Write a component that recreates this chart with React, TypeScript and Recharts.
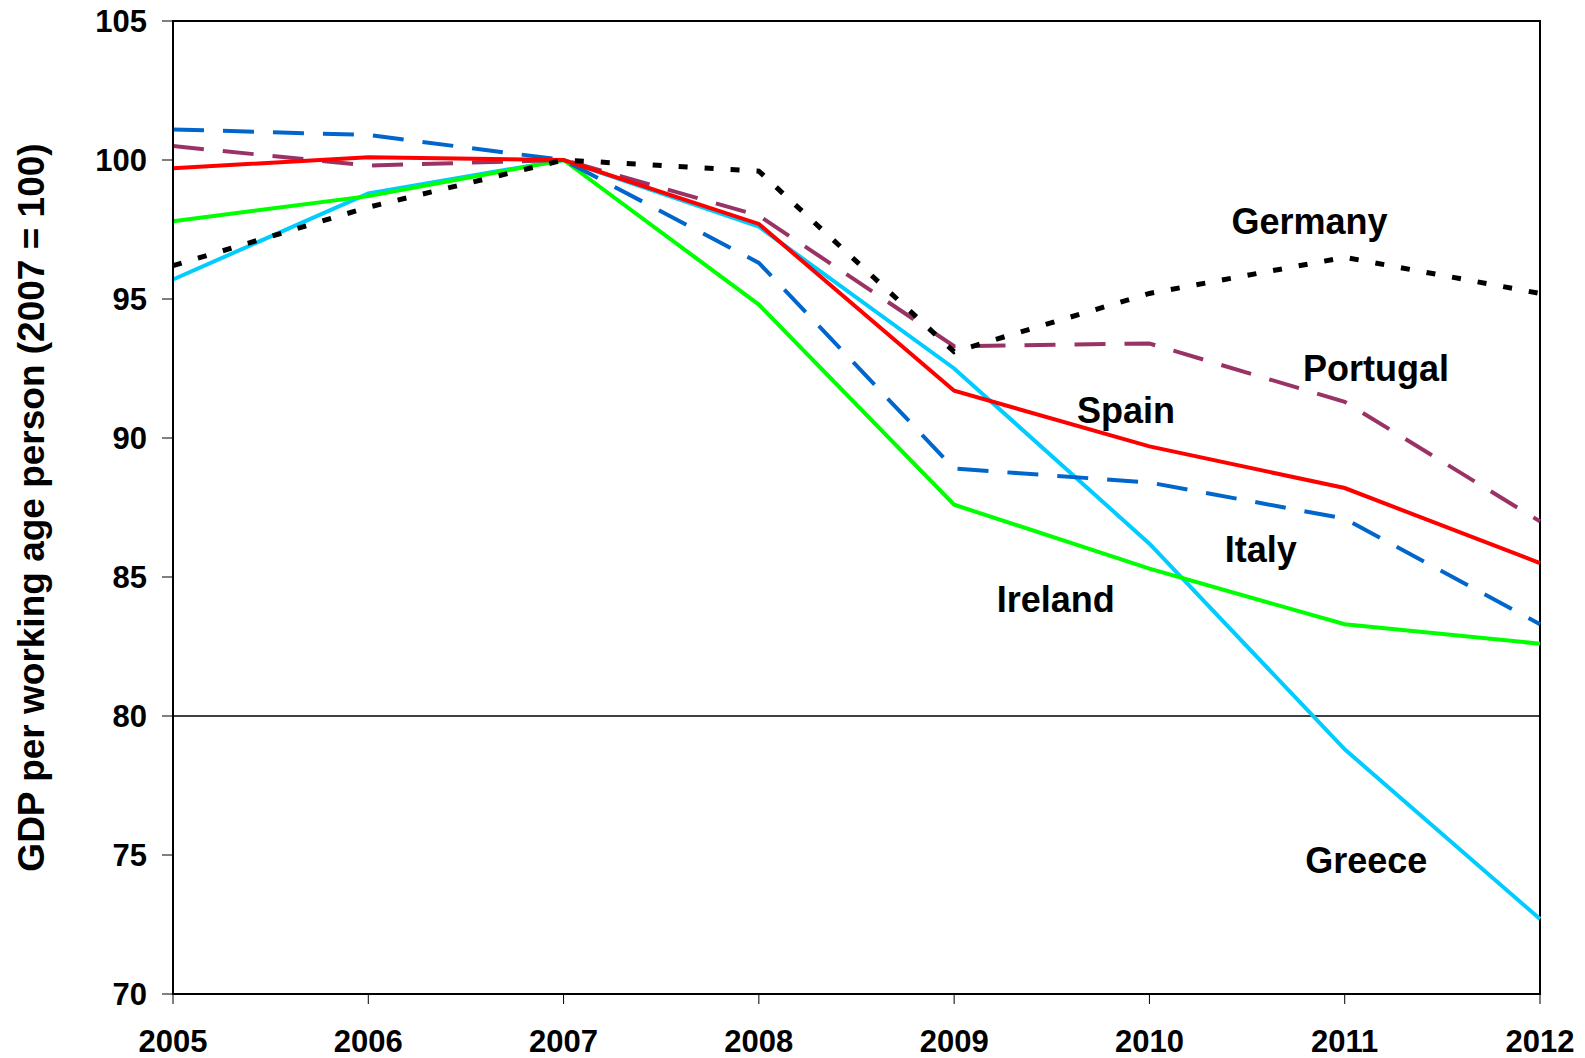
import React from 'react';
import {
  LineChart,
  Line,
  XAxis,
  YAxis,
  ReferenceLine,
  ReferenceArea,
  ReferenceDot,
} from 'recharts';

const FONT = '"Liberation Sans", Arial, sans-serif';

const years = [2005, 2006, 2007, 2008, 2009, 2010, 2011, 2012];
const germany = [96.2, 98.3, 100, 99.6, 93.1, 95.2, 96.5, 95.2];
const portugal = [100.5, 99.8, 100, 98.0, 93.3, 93.4, 91.3, 87.0];
const spain = [99.7, 100.1, 100, 97.7, 91.7, 89.7, 88.2, 85.5];
const italy = [101.1, 100.9, 100, 96.3, 88.9, 88.4, 87.1, 83.3];
const ireland = [97.8, 98.7, 100, 94.8, 87.6, 85.3, 83.3, 82.6];
const greece = [95.7, 98.8, 100, 97.6, 92.5, 86.2, 78.8, 72.7];

const yTicks = [70, 75, 80, 85, 90, 95, 100, 105];

// where each country's name sits, in data units
const labelNames = ['Germany', 'Portugal', 'Spain', 'Italy', 'Ireland', 'Greece'];
const labelYears = [2010.82, 2011.16, 2009.88, 2010.57, 2009.52, 2011.11];
const labelValues = [97.8, 92.5, 91.0, 86.0, 84.2, 74.8];

const data = years.map((year, i) => ({
  year,
  germany: germany[i],
  portugal: portugal[i],
  spain: spain[i],
  italy: italy[i],
  ireland: ireland[i],
  greece: greece[i],
}));

const YTitle = (props: any) => {
  const vb = props.viewBox;
  const cx = vb.x + 31;
  const cy = vb.y + vb.height / 2;
  return (
    <text
      x={cx}
      y={cy}
      transform={`rotate(-90, ${cx}, ${cy})`}
      textAnchor="middle"
      dominantBaseline="central"
      fontFamily={FONT}
      fontWeight="bold"
      fontSize={37}
      fill="#000"
    >
      GDP per working age person (2007 = 100)
    </text>
  );
};

const nameLabel = (text: string) => (props: any) => {
  const vb = props.viewBox;
  const cx = vb.x + (vb.width || 0) / 2;
  const cy = vb.y + (vb.height || 0) / 2;
  return (
    <text
      x={cx}
      y={cy}
      textAnchor="middle"
      dominantBaseline="central"
      fontFamily={FONT}
      fontWeight="bold"
      fontSize={36}
      fill="#000"
    >
      {text}
    </text>
  );
};

export default function App() {
  const tickStyle = { fontFamily: FONT, fontWeight: 'bold', fontSize: 31, fill: '#000' };
  return (
    <div style={{ position: 'absolute', left: 0, top: 0, background: '#fff' }}>
      <LineChart
        width={1585}
        height={1058}
        data={data}
        margin={{ top: 21, right: 45, bottom: 0, left: 0 }}
      >
        <XAxis
          dataKey="year"
          type="number"
          domain={[2005, 2012]}
          ticks={years}
          height={64}
          tickSize={10}
          tickMargin={26}
          axisLine={{ stroke: '#000', strokeWidth: 2 }}
          tickLine={{ stroke: '#000', strokeWidth: 1 }}
          tick={tickStyle}
          interval={0}
        />
        <YAxis
          type="number"
          domain={[70, 105]}
          ticks={yTicks}
          width={173}
          tickSize={11}
          tickMargin={15}
          axisLine={{ stroke: '#000', strokeWidth: 2 }}
          tickLine={{ stroke: '#000', strokeWidth: 1 }}
          tick={tickStyle}
          interval={0}
          label={{ content: YTitle }}
        />
        <ReferenceArea
          x1={2005}
          x2={2012}
          y1={70}
          y2={105}
          fill="none"
          fillOpacity={0}
          stroke="#000"
          strokeWidth={2}
        />
        <ReferenceLine y={80} stroke="#000" strokeWidth={1.5} />
        <Line
          dataKey="greece"
          stroke="#00CCFF"
          strokeWidth={4}
          dot={false}
          isAnimationActive={false}
        />
        <Line
          dataKey="ireland"
          stroke="#00FF00"
          strokeWidth={4}
          dot={false}
          isAnimationActive={false}
        />
        <Line
          dataKey="italy"
          stroke="#0066CC"
          strokeWidth={4}
          strokeDasharray="31 19"
          dot={false}
          isAnimationActive={false}
        />
        <Line
          dataKey="portugal"
          stroke="#993366"
          strokeWidth={4}
          strokeDasharray="31 19"
          dot={false}
          isAnimationActive={false}
        />
        <Line
          dataKey="spain"
          stroke="#FF0000"
          strokeWidth={4}
          dot={false}
          isAnimationActive={false}
        />
        <Line
          dataKey="germany"
          stroke="#000000"
          strokeWidth={5}
          strokeDasharray="9 17"
          dot={false}
          isAnimationActive={false}
        />
        {labelNames.map((name, i) => (
          <ReferenceDot
            key={name}
            x={labelYears[i]}
            y={labelValues[i]}
            r={0}
            fill="none"
            stroke="none"
            label={{ content: nameLabel(name) }}
          />
        ))}
      </LineChart>
    </div>
  );
}
